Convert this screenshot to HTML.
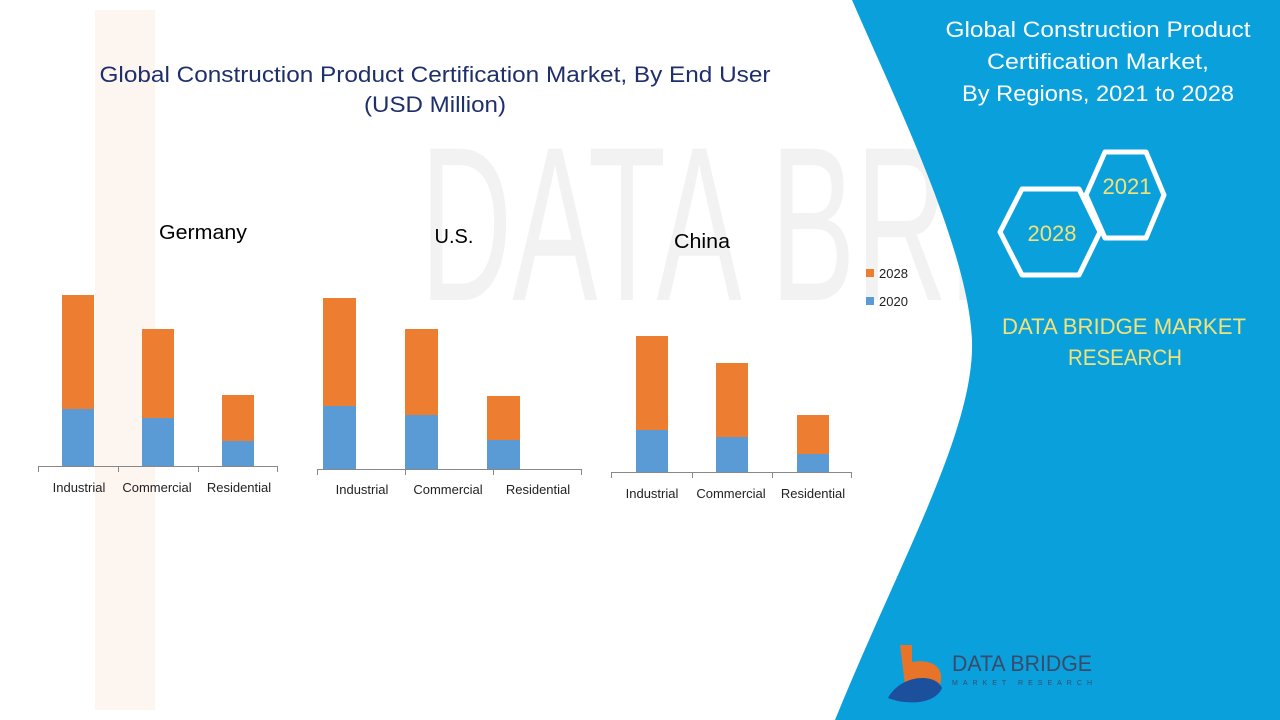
<!DOCTYPE html>
<html><head><meta charset="utf-8"><style>
html,body{margin:0;padding:0;width:1280px;height:720px;overflow:hidden;background:#fff}
svg{display:block}
</style></head><body>
<svg width="1280" height="720" viewBox="0 0 1280 720" xmlns="http://www.w3.org/2000/svg" font-family="Liberation Sans, sans-serif">
<rect width="1280" height="720" fill="#fff"/>
<!-- faint watermark -->
<g opacity="0.07">
<rect x="95" y="10" width="60" height="700" fill="#e8742a"/>
<text x="420" y="300" font-size="220" fill="#555" textLength="840" lengthAdjust="spacingAndGlyphs">DATA BRIDGE</text>
</g>
<!-- blue panel -->
<path d="M852,0 L1280,0 L1280,720 L835,720 C900,560 975,430 972,340 C968,250 900,110 852,0 Z" fill="#0aa0dc"/>
<!-- right texts -->
<g fill="#fff" font-size="22" text-anchor="middle">
<text x="1098" y="37" textLength="305" lengthAdjust="spacingAndGlyphs">Global Construction Product</text>
<text x="1098" y="69" textLength="222" lengthAdjust="spacingAndGlyphs">Certification Market,</text>
<text x="1098" y="101" textLength="272" lengthAdjust="spacingAndGlyphs">By Regions, 2021 to 2028</text>
</g>
<polygon points="1086,195 1105,152 1146,152 1164,195 1146,238 1105,238" fill="none" stroke="#fff" stroke-width="5" stroke-linejoin="round"/>
<polygon points="1000,232 1022,189 1079,189 1100,232 1079,275 1022,275" fill="#0aa0dc" stroke="#fff" stroke-width="5" stroke-linejoin="round"/>
<g fill="#f1e27a" font-size="22" text-anchor="middle">
<text x="1127" y="194">2021</text>
<text x="1052" y="241">2028</text>
<text x="1124" y="334" textLength="244" lengthAdjust="spacingAndGlyphs">DATA BRIDGE MARKET</text>
<text x="1125" y="365" textLength="114" lengthAdjust="spacingAndGlyphs">RESEARCH</text>
</g>
<!-- logo -->
<path d="M900,645 L912,645 L912,662 C935,658 945,670 940,685 L905,685 Z" fill="#e8742a"/>
<path d="M888,698 C900,675 935,672 942,688 C935,705 905,705 888,698 Z" fill="#1c4f9c"/>
<text x="952" y="671" font-size="22" fill="#3a4a6a" textLength="140" lengthAdjust="spacingAndGlyphs">DATA BRIDGE</text>
<text x="952" y="685" font-size="7" fill="#3a4a6a" textLength="140" lengthAdjust="spacing">MARKET RESEARCH</text>
<!-- main title -->
<g fill="#1f2f6b" font-size="22" text-anchor="middle">
<text x="435" y="82" textLength="671" lengthAdjust="spacingAndGlyphs">Global Construction Product Certification Market, By End User</text>
<text x="435" y="112" textLength="142" lengthAdjust="spacingAndGlyphs">(USD Million)</text>
</g>
<g fill="#000" font-size="20" text-anchor="middle">
<text x="203" y="239" textLength="88" lengthAdjust="spacingAndGlyphs">Germany</text>
<text x="454" y="243">U.S.</text>
<text x="702" y="248" textLength="56" lengthAdjust="spacingAndGlyphs">China</text>
</g>
<!-- Germany -->
<g>
<rect x="62" y="295" width="32" height="114" fill="#ed7d31"/><rect x="62" y="409" width="32" height="57" fill="#5b9bd5"/>
<rect x="142" y="329" width="32" height="89" fill="#ed7d31"/><rect x="142" y="418" width="32" height="48" fill="#5b9bd5"/>
<rect x="222" y="395" width="32" height="46" fill="#ed7d31"/><rect x="222" y="441" width="32" height="25" fill="#5b9bd5"/>
<path d="M38,466.5 H278 M38.5,466 V472 M118.5,466 V472 M198.5,466 V472 M277.5,466 V472" stroke="#888" stroke-width="1" fill="none"/>
</g>
<!-- US -->
<g>
<rect x="323" y="298" width="33" height="108" fill="#ed7d31"/><rect x="323" y="406" width="33" height="63" fill="#5b9bd5"/>
<rect x="405" y="329" width="33" height="86" fill="#ed7d31"/><rect x="405" y="415" width="33" height="54" fill="#5b9bd5"/>
<rect x="487" y="396" width="33" height="44" fill="#ed7d31"/><rect x="487" y="440" width="33" height="29" fill="#5b9bd5"/>
<path d="M317,469.5 H582 M317.5,469 V475 M405.5,469 V475 M493.5,469 V475 M581.5,469 V475" stroke="#888" stroke-width="1" fill="none"/>
</g>
<!-- China -->
<g>
<rect x="636" y="336" width="32" height="94" fill="#ed7d31"/><rect x="636" y="430" width="32" height="42" fill="#5b9bd5"/>
<rect x="716" y="363" width="32" height="74" fill="#ed7d31"/><rect x="716" y="437" width="32" height="35" fill="#5b9bd5"/>
<rect x="797" y="415" width="32" height="39" fill="#ed7d31"/><rect x="797" y="454" width="32" height="18" fill="#5b9bd5"/>
<path d="M611,472.5 H852 M611.5,472 V478 M692.5,472 V478 M772.5,472 V478 M851.5,472 V478" stroke="#888" stroke-width="1" fill="none"/>
</g>
<g fill="#222" font-size="13" text-anchor="middle">
<text x="79" y="492">Industrial</text><text x="157" y="492">Commercial</text><text x="239" y="492">Residential</text>
<text x="362" y="494">Industrial</text><text x="448" y="494">Commercial</text><text x="538" y="494">Residential</text>
<text x="652" y="498">Industrial</text><text x="731" y="498">Commercial</text><text x="813" y="498">Residential</text>
</g>
<!-- legend -->
<rect x="866" y="269" width="8" height="8" fill="#ed7d31"/>
<rect x="866" y="297" width="8" height="8" fill="#5b9bd5"/>
<g fill="#222" font-size="13"><text x="879" y="278">2028</text><text x="879" y="306">2020</text></g>
</svg>
</body></html>
